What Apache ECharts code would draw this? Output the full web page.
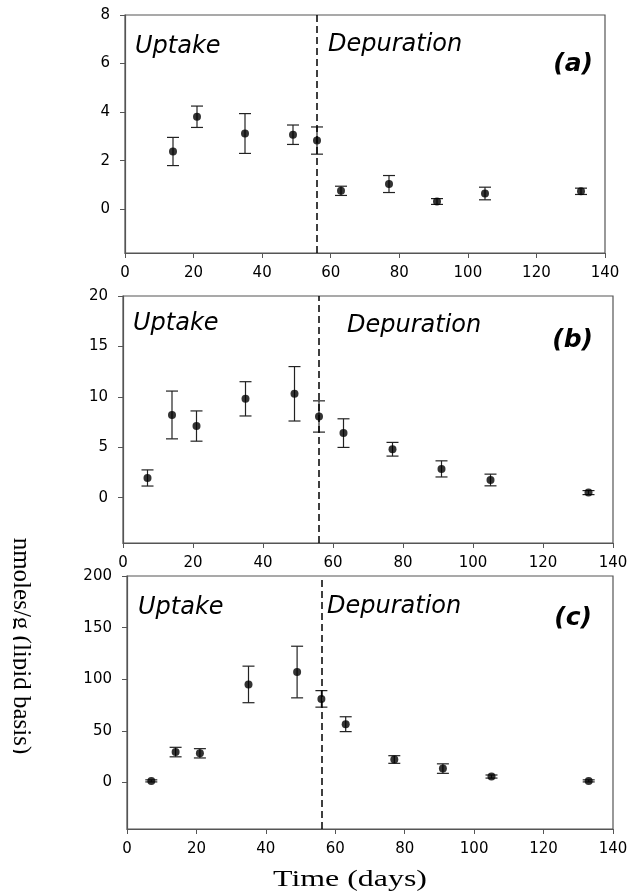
<!DOCTYPE html>
<html>
<head>
<meta charset="utf-8">
<script src="https://cdn.jsdelivr.net/npm/echarts@6/dist/echarts.min.js"></script>
<style>
  html, body { margin: 0; padding: 0; background: #fff; }
  #chart { width: 631px; height: 894px; }
</style>
</head>
<body>
<div id="chart"></div>
<script>
// ---------------- data ----------------
const daysA = [14, 21, 35, 49, 56, 63, 77, 91, 105, 133];
const meanA = [2.38, 3.81, 3.12, 3.07, 2.83, 0.76, 1.04, 0.32, 0.65, 0.74];
const errA  = [0.58, 0.44, 0.82, 0.40, 0.56, 0.19, 0.35, 0.12, 0.26, 0.13];

const daysB = [7, 14, 21, 35, 49, 56, 63, 77, 91, 105, 133];
const meanB = [1.95, 8.2, 7.1, 9.8, 10.3, 8.05, 6.4, 4.8, 2.85, 1.75, 0.5];
const errB  = [0.8, 2.37, 1.5, 1.7, 2.7, 1.55, 1.42, 0.68, 0.8, 0.58, 0.2];

const daysC = [7, 14, 21, 35, 49, 56, 63, 77, 91, 105, 133];
const meanC = [1.6, 29.5, 28.3, 95, 107, 81, 56.5, 22.3, 13.5, 5.8, 1.6];
const errC  = [1, 4.6, 4.5, 17.7, 25, 8, 7.2, 3.7, 4.6, 1.5, 1];

const depurationStart = 56;
const xTicks = [0, 20, 40, 60, 80, 100, 120, 140];
const yTicksA = [0, 2, 4, 6, 8];
const yTicksB = [0, 5, 10, 15, 20];
const yTicksC = [0, 50, 100, 150, 200];
const yRangeA = [-1.8, 8];
const yRangeB = [-4.5, 20];
const yRangeC = [-45, 200];
const panelLabels = ['(a)', '(b)', '(c)'];
const phaseLabels = ['Uptake', 'Depuration'];
const xTitle = 'Time (days)';
const yTitle = 'nmoles/g (lipid basis)';

// ---------------- chart ----------------
const chart = echarts.init(document.getElementById('chart'), null, { renderer: 'canvas' });

const axisColor = '#555';
const tickFont = { color: '#000', fontFamily: 'DejaVu Sans', fontSize: 15 };

const grids = [
  { left: 125, top: 15, width: 480, height: 238 },
  { left: 123, top: 296, width: 490, height: 247 },
  { left: 127, top: 576, width: 486, height: 253 }
];

function xAxisFor(i) {
  return {
    type: 'value', gridIndex: i, min: 0, max: 140, interval: 20,
    axisLine: { show: true, onZero: false, lineStyle: { color: axisColor, width: 1.2 } },
    axisTick: { show: true, inside: false, length: 5, lineStyle: { color: axisColor } },
    axisLabel: Object.assign({ margin: 13 }, tickFont),
    splitLine: { show: false }
  };
}
function yAxisFor(i, range, ticks) {
  return {
    type: 'value', gridIndex: i, min: range[0], max: range[1],
    axisLine: { show: true, onZero: false, lineStyle: { color: axisColor, width: 1.2 } },
    axisTick: { show: true, inside: false, length: 5, customValues: ticks, lineStyle: { color: axisColor } },
    axisLabel: Object.assign({ margin: 15, customValues: ticks }, tickFont),
    splitLine: { show: false }
  };
}

function errRender(params, api) {
  const x = api.value(0), lo = api.value(1), hi = api.value(2);
  const pLo = api.coord([x, lo]);
  const pHi = api.coord([x, hi]);
  const hw = 6;
  const st = { stroke: '#222', lineWidth: 1.2 };
  return {
    type: 'group',
    children: [
      { type: 'line', shape: { x1: pLo[0], y1: pLo[1], x2: pHi[0], y2: pHi[1] }, style: st },
      { type: 'line', shape: { x1: pLo[0] - hw, y1: pLo[1], x2: pLo[0] + hw, y2: pLo[1] }, style: st },
      { type: 'line', shape: { x1: pHi[0] - hw, y1: pHi[1], x2: pHi[0] + hw, y2: pHi[1] }, style: st }
    ]
  };
}

function seriesFor(i, days, mean, err) {
  return [
    {
      type: 'custom', xAxisIndex: i, yAxisIndex: i,
      renderItem: errRender,
      data: days.map((d, k) => [d, mean[k] - err[k], mean[k] + err[k]]),
      z: 2, silent: true
    },
    {
      type: 'scatter', xAxisIndex: i, yAxisIndex: i,
      symbol: 'circle', symbolSize: 8,
      itemStyle: { color: '#000' },
      data: days.map((d, k) => [d, mean[k]]),
      z: 3,
      markLine: {
        silent: true, symbol: ['none', 'none'],
        label: { show: false },
        lineStyle: { color: '#000', type: [7, 4], width: 1.5 },
        data: [{ xAxis: depurationStart }]
      }
    }
  ];
}

const phaseFont = 'italic 24px "DejaVu Sans"';
const tagFont = 'italic bold 25px "DejaVu Sans"';
const textPos = [
  { up: [135, 46.5], dep: [328, 45], tag: [593, 64] },
  { up: [133, 324], dep: [347, 326], tag: [593, 340] },
  { up: [138, 608], dep: [327, 606.5], tag: [592, 618.5] }
];
const graphics = [];
textPos.forEach((p, i) => {
  graphics.push({ type: 'text', x: p.up[0], y: p.up[1], style: { text: phaseLabels[0], font: phaseFont, fill: '#000', textAlign: 'left', textVerticalAlign: 'middle' } });
  graphics.push({ type: 'text', x: p.dep[0], y: p.dep[1], style: { text: phaseLabels[1], font: phaseFont, fill: '#000', textAlign: 'left', textVerticalAlign: 'middle' } });
  graphics.push({ type: 'text', x: p.tag[0], y: p.tag[1], style: { text: panelLabels[i], font: tagFont, fill: '#000', textAlign: 'right', textVerticalAlign: 'middle' } });
});
graphics.push({
  type: 'text', x: 350, y: 880, scaleX: 1.33,
  style: { text: xTitle, font: '24px "Liberation Serif"', fill: '#000', textAlign: 'center', textVerticalAlign: 'middle' }
});
graphics.push({
  type: 'text', x: 21, y: 646, rotation: -Math.PI / 2,
  style: { text: yTitle, font: '25px "Liberation Serif"', fill: '#000', textAlign: 'center', textVerticalAlign: 'middle' },
  z: 10
});
graphics.push({
  type: 'rect', shape: { x: 0, y: 520, width: 13, height: 260 },
  style: { fill: '#fff' }, z: 11, silent: true
});

const option = {
  backgroundColor: '#fff',
  animation: false,
  grid: grids.map(g => Object.assign({ show: true, borderColor: axisColor, borderWidth: 1.2, backgroundColor: 'transparent' }, g)),
  xAxis: [0, 1, 2].map(xAxisFor),
  yAxis: [yAxisFor(0, yRangeA, yTicksA), yAxisFor(1, yRangeB, yTicksB), yAxisFor(2, yRangeC, yTicksC)],
  series: [].concat(seriesFor(0, daysA, meanA, errA), seriesFor(1, daysB, meanB, errB), seriesFor(2, daysC, meanC, errC)),
  graphic: graphics
};
chart.setOption(option);
</script>
</body>
</html>
